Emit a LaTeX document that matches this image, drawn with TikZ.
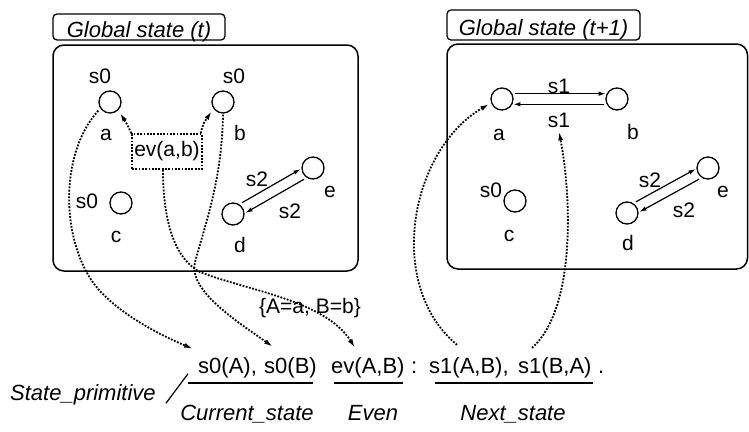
\documentclass[tikz,border=0pt]{standalone}
\usepackage{fontspec}
\setmainfont{Liberation Sans}
\usetikzlibrary{arrows.meta}

\begin{document}
\begin{tikzpicture}[x=1pt,y=-1pt,
  lbl/.style={font=\fontsize{21}{24}\selectfont, inner sep=1pt, anchor=base},
  txt/.style={font=\fontsize{22}{26}\selectfont, inner sep=1pt, anchor=base west},
  ital/.style={font=\fontsize{22}{26}\selectfont\itshape, inner sep=1pt},
  agent/.style={circle, draw, line width=1.3pt, minimum size=22pt, inner sep=0pt},
  frame/.style={draw, line width=1.5pt, rounded corners=11pt},
  tag/.style={draw, line width=1.3pt, rounded corners=4pt, inner sep=3pt},
  dotted link/.style={line width=1.8pt, dash pattern=on 1.8pt off 1.5pt,
    -{Latex[length=9pt,width=5pt]}},
  trans/.style={line width=1.2pt, -{Latex[length=7pt,width=4.5pt]},
    shorten <=3pt, shorten >=1pt},
  uline/.style={line width=1.5pt},
]
\useasboundingbox (0,0) rectangle (749,431);

% ---------- global state (t) ----------
\draw[frame] (53,45) rectangle (358,271);
\node[tag, ital, text height=22pt, text depth=2pt, minimum width=172pt]
  (gt) at (139,27) {Global state (t)};

\node[agent] (a1) at (110,102) {};
\node[agent] (b1) at (223,102) {};
\node[agent] (c1) at (121,203) {};
\node[agent] (d1) at (233,214) {};
\node[agent] (e1) at (313,168) {};

\node[lbl] (sa1) at (100,83) {s0};
\node[lbl] (la1) at (106,140) {a};
\node[lbl] (sb1) at (234,83) {s0};
\node[lbl] (lb1) at (240,140) {b};
\node[lbl] (sc1) at (87,208) {s0};
\node[lbl] (lc1) at (116,242) {c};
\node[lbl] (ld1) at (240,252) {d};
\node[lbl] (le1) at (330,197) {e};
\node[lbl] (sde1) at (257,186) {s2};
\node[lbl] (sed1) at (290,218) {s2};

\draw[trans] (d1.57) -- (e1.183);
\draw[trans] (e1.237) -- (d1.3);

\node[lbl, anchor=center, draw, line width=1.6pt, dash pattern=on 1.8pt off 1.5pt,
  minimum width=70pt, minimum height=35pt] (ev) at (167,151.5) {ev(a,b)};

\draw[dotted link, shorten >=3pt] (ev.north west) .. controls (127,124) .. (a1.-45);
\draw[dotted link, shorten >=3pt] ([xshift=-2pt]ev.north east) .. controls (203,124) .. (b1.215);

% ---------- global state (t+1) ----------
\draw[frame] (447,44) rectangle (747.5,269);
\node[tag, ital, text height=24pt, text depth=4pt, minimum width=193pt]
  (gt1) at (543.5,25) {Global state (t+1)};

\node[agent] (a2) at (502,99) {};
\node[agent] (b2) at (617,99) {};
\node[agent] (c2) at (515,201) {};
\node[agent] (d2) at (627,213) {};
\node[agent] (e2) at (708,168) {};

\node[lbl] (la2) at (499,140) {a};
\node[lbl] (lb2) at (633,139) {b};
\node[lbl] (sab2) at (559,93) {s1};
\node[lbl] (sba2) at (559,127) {s1};
\node[lbl] (sc2) at (491,197) {s0};
\node[lbl] (lc2) at (509,241) {c};
\node[lbl] (ld2) at (628,250) {d};
\node[lbl] (le2) at (723,197) {e};
\node[lbl] (sde2) at (650,187) {s2};
\node[lbl] (sed2) at (684,217) {s2};

\draw[trans] (a2.27) -- (b2.153);
\draw[trans] (b2.207) -- (a2.333);
\draw[trans] (d2.57) -- (e2.183);
\draw[trans] (e2.237) -- (d2.3);

% ---------- rule ----------
\node[txt] (tA) at (197,373) {s0(A),};
\node[txt] (tB) at (263,373) {s0(B)};
\node[txt] (tev) at (330,373) {ev(A,B)};
\node[txt] (tcol) at (410,373) {:};
\node[txt] (tn1) at (428,373) {s1(A,B),};
\node[txt] (tn2) at (517,373) {s1(B,A)};
\node[txt] (tdot) at (597,373) {.};

\draw[uline] (188,383) -- (313,383);
\draw[uline] (334,383) -- (403,383);
\draw[uline] (435,383) -- (593,383);

\node[ital, anchor=base] (cur) at (247,420) {Current\_state};
\node[ital, anchor=base] (evn) at (373,420) {Even};
\node[ital, anchor=base] (nxt) at (513,420) {Next\_state};
\node[ital, anchor=base west] (sp) at (9,400) {State\_primitive};
\draw[line width=1.2pt] ([shift={(9pt,-9pt)}]sp.east) -- ([shift={(-9pt,5pt)}]tA.south west);

\node[font=\fontsize{21}{24}\selectfont, inner sep=1pt, anchor=base] (subst) at (310,313) {\{A=a, B=b\}};

% ---------- bindings ----------
\draw[dotted link, shorten <=3pt] (a1.214)
  .. controls (62,150) and (60,230) .. (90,278)
  .. controls (110,310) and (160,335) .. ([shift={(-4pt,7pt)}]tA.north west);
\draw[dotted link, shorten <=1pt] (b1.south)
  .. controls (222,180) and (205,225) .. (195,262)
  .. controls (188,290) and (235,320) .. ([shift={(10pt,9pt)}]tB.north west);
\draw[dotted link] ([xshift=-4pt]ev.south)
  .. controls (163,215) and (172,257) .. (200,272)
  .. controls (245,290) and (325,300) .. ([shift={(25pt,8pt)}]tev.north west);
\draw[dotted link, shorten >=2pt] ([shift={(29pt,11pt)}]tn1.north west)
  .. controls (385,285) and (410,150) .. (a2.200);
\draw[dotted link] ([shift={(15pt,8pt)}]tn2.north west)
  .. controls (575,310) and (572,200) .. ([yshift=-3pt]sba2.south);

\end{tikzpicture}
\end{document}
